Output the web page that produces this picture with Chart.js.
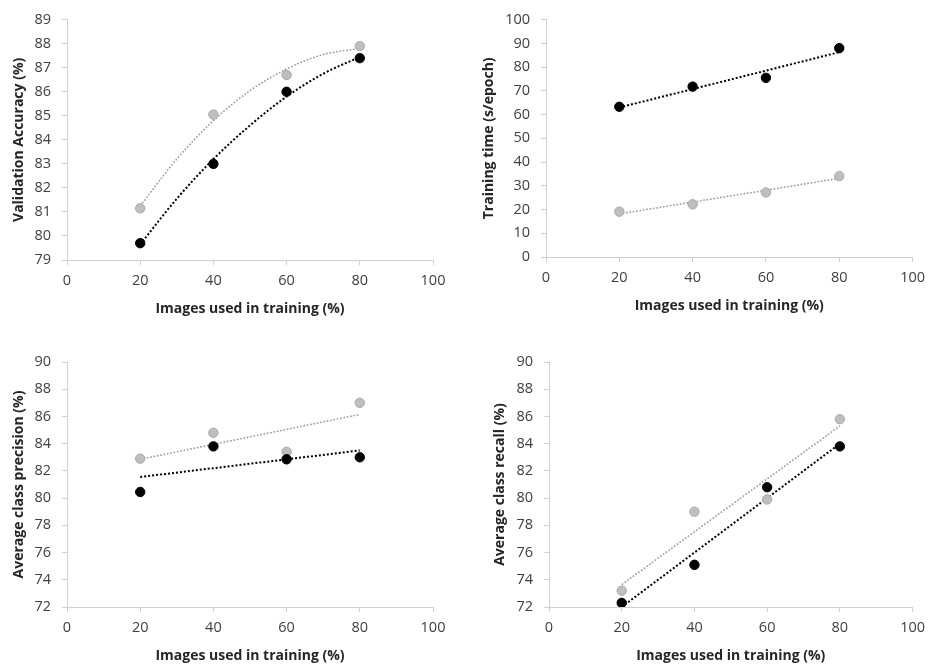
<!DOCTYPE html>
<html>
<head>
<meta charset="utf-8">
<title>Effect of training set size</title>
<script src="https://cdn.jsdelivr.net/npm/chart.js@4"></script>
<style>
  body { margin: 0; background: #fff; }
  #wrap { position: relative; width: 932px; height: 668px; }
  canvas { position: absolute; }
</style>
</head>
<body>
<div id="wrap">
  <canvas id="accChart" width="466" height="330" style="left:0;top:0"></canvas>
  <canvas id="timeChart" width="466" height="330" style="left:466px;top:0"></canvas>
  <canvas id="precChart" width="466" height="338" style="left:0;top:330px"></canvas>
  <canvas id="recChart" width="466" height="338" style="left:466px;top:330px"></canvas>
</div>
<script>
// x values (% of images used in training)
const trainPct = [20, 40, 60, 80];
const trendEnds = [20, 80];
const curveX = [20, 30, 40, 50, 60, 70, 80];

// validation accuracy (%) - trend curves
const accBlack = [79.7, 83.0, 86.0, 87.4];
const accGrey = [81.15, 85.05, 86.7, 87.9];
const accBlackTrend = [79.65, 81.55, 83.2, 84.6, 85.8, 86.75, 87.45];
const accGreyTrend = [81.25, 83.2, 84.8, 86.05, 86.95, 87.55, 87.8];

// training time (s/epoch)
const timeBlack = [63.3, 71.8, 75.5, 88.0];
const timeGrey = [19.1, 22.2, 27.2, 34.1];
const timeBlackTrend = [63.0, 86.3];
const timeGreyTrend = [18.15, 33.15];

// average class precision (%)
const precBlack = [80.45, 83.8, 82.85, 83.0];
const precGrey = [82.9, 84.8, 83.4, 87.0];
const precBlackTrend = [81.55, 83.5];
const precGreyTrend = [82.85, 86.15];

// average class recall (%)
const recBlack = [72.3, 75.1, 80.8, 83.8];
const recGrey = [73.2, 79.0, 79.9, 85.8];
const recBlackTrend = [72.0, 84.0];
const recGreyTrend = [73.65, 85.3];

const xTitle = 'Images used in training (%)';
const tickFont = { family: "'Open Sans', sans-serif", size: 14.5 };
const titleFont = { family: "'Open Sans', sans-serif", size: 14, weight: 'bold' };
const tickColor = '#404040';
const titleColor = '#262626';
const axisColor = '#d0d0d0';

function pairs(xs, ys) {
  return ys.map((y, i) => ({ x: xs[i], y: y }));
}

function makePlot(id, o) {
  const curve = o.curved ? 'monotone' : 'default';
  const tx = o.curved ? curveX : trendEnds;
  new Chart(document.getElementById(id), {
    type: 'scatter',
    data: {
      datasets: [
        { data: pairs(trainPct, o.black), backgroundColor: '#000', borderColor: '#000',
          borderWidth: 1, pointRadius: 4.7 },
        { data: pairs(trainPct, o.grey), backgroundColor: '#bfbfbf', borderColor: '#a8a8a8',
          borderWidth: 1, pointRadius: 4.7 },
        { data: pairs(tx, o.blackTrend), showLine: true, pointRadius: 0, borderColor: '#000',
          borderWidth: 2, borderDash: [2, 2], cubicInterpolationMode: curve },
        { data: pairs(tx, o.greyTrend), showLine: true, pointRadius: 0, borderColor: '#999',
          borderWidth: 1.5, borderDash: [1.7, 1.7], cubicInterpolationMode: curve }
      ]
    },
    options: {
      responsive: false,
      animation: false,
      layout: { padding: o.pad },
      plugins: { legend: { display: false }, tooltip: { enabled: false } },
      scales: {
        x: {
          type: 'linear', min: 0, max: 100,
          afterFit: s => { s.height = 60; },
          ticks: { stepSize: 20, padding: 7, color: tickColor, font: tickFont, maxRotation: 0 },
          grid: { drawOnChartArea: false, tickLength: 5, color: axisColor },
          border: { color: axisColor },
          title: { display: true, text: xTitle, color: titleColor, font: titleFont,
                   padding: { top: 0, bottom: 3 } }
        },
        y: {
          min: o.yMin, max: o.yMax,
          afterFit: s => { s.width = o.yWidth; },
          ticks: { stepSize: o.yStep, padding: 11, color: tickColor, font: tickFont },
          grid: { drawOnChartArea: false, tickLength: 5, color: axisColor },
          border: { color: axisColor },
          title: { display: true, text: o.yTitle, color: titleColor, font: titleFont,
                   padding: { top: o.yTitlePad, bottom: 0 } }
        }
      }
    }
  });
}

makePlot('accChart', {
  black: accBlack, grey: accGrey, blackTrend: accBlackTrend, greyTrend: accGreyTrend,
  curved: true, yMin: 79, yMax: 89, yStep: 1, yTitle: 'Validation Accuracy (%)',
  yWidth: 67, yTitlePad: 11, pad: { top: 15, right: 33, bottom: 10, left: 0 }
});
makePlot('timeChart', {
  black: timeBlack, grey: timeGrey, blackTrend: timeBlackTrend, greyTrend: timeGreyTrend,
  curved: false, yMin: 0, yMax: 100, yStep: 10, yTitle: 'Training time (s/epoch)',
  yWidth: 80, yTitlePad: 15, pad: { top: 14, right: 15, bottom: 13, left: 0 }
});
makePlot('precChart', {
  black: precBlack, grey: precGrey, blackTrend: precBlackTrend, greyTrend: precGreyTrend,
  curved: false, yMin: 72, yMax: 90, yStep: 2, yTitle: 'Average class precision (%)',
  yWidth: 67, yTitlePad: 11, pad: { top: 32, right: 33, bottom: 1, left: 0 }
});
makePlot('recChart', {
  black: recBlack, grey: recGrey, blackTrend: recBlackTrend, greyTrend: recGreyTrend,
  curved: false, yMin: 72, yMax: 90, yStep: 2, yTitle: 'Average class recall (%)',
  yWidth: 83, yTitlePad: 26, pad: { top: 32, right: 18, bottom: 1, left: 0 }
});
</script>
</body>
</html>
